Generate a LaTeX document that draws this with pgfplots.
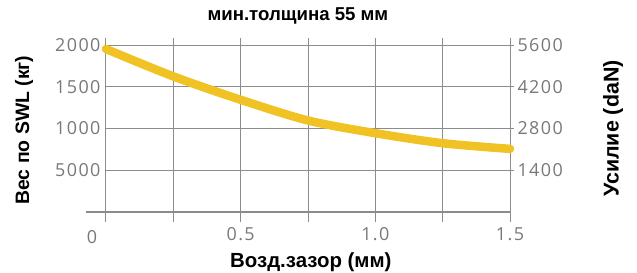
\documentclass[border=0pt]{standalone}
\usepackage{pgfplots}
\pgfplotsset{compat=1.18}
\usepackage{fontspec}
\setmainfont{Liberation Sans}
\newfontfamily\tickfont[LetterSpace=8]{Open Sans}
\definecolor{curve}{RGB}{240,194,36}
\definecolor{gridc}{RGB}{140,140,140}
\definecolor{tickc}{RGB}{120,120,120}
\begin{document}
\begin{tikzpicture}
\begin{axis}[
  scale only axis, width=404bp, height=167bp,
  xmin=0, xmax=1.5, ymin=0, ymax=2000,
  axis line style={draw=none}, clip=false,
  xtick pos=bottom, ytick pos=left,
  xtick={0.5,1.0,1.5}, xticklabels={0.5,1.0,1.5},
  ytick={500,1000,1500,2000}, yticklabels={5000,1000,1500,2000},
  major tick length=0pt,
  ticklabel style={font=\tickfont\fontsize{18}{18}\selectfont, text=tickc},
  /pgf/number format/assume math mode=true,
  xticklabel style={yshift=-12bp},
  yticklabel style={xshift=-2bp},
  title={мин.толщина 55 мм},
  title style={font=\bfseries\fontsize{18.7}{18.7}\selectfont, at={(rel axis cs:0.475,1.108)}, anchor=base},
  xlabel={Возд.зазор (мм)},
  xlabel style={font=\bfseries\fontsize{20.5}{20.5}\selectfont, at={(rel axis cs:0.507,-0.333)}, anchor=base},
  ylabel={Вес по SWL (кг)},
  ylabel style={font=\bfseries\fontsize{19.5}{19.5}\selectfont, at={(rel axis cs:-0.203,0.49)}, anchor=center, rotate=0},
]
\pgfplotsinvokeforeach{0,0.25,0.5,0.75,1,1.25,1.5}{
  \draw[gridc, line width=1bp] ([yshift=-10bp]axis cs:#1,0) -- ([yshift=7bp]axis cs:#1,2000);
}
\pgfplotsinvokeforeach{500,1000,1500,2000}{
  \draw[gridc, line width=1bp] (axis cs:0,#1) -- ([xshift=4bp]axis cs:1.5,#1);
}
\draw[gridc, line width=1.2bp] ([xshift=-20bp]axis cs:0,0) -- (axis cs:1.5,0);
\node[font=\tickfont\fontsize{18}{18}\selectfont, text=tickc] at ([xshift=-14bp,yshift=-25bp]axis cs:0,0) {0};
\addplot[curve, line width=8.5bp, smooth, line cap=round] coordinates {
  (0,1952) (0.25,1624) (0.5,1344) (0.75,1096) (1.0,944) (1.25,824) (1.5,756)
};
\coordinate (O) at (rel axis cs:0,0);
\end{axis}
\begin{axis}[
  scale only axis, width=404bp, height=167bp,
  xmin=0, xmax=1.5, ymin=0, ymax=5600,
  axis x line=none, axis y line*=right, y axis line style={draw=none},
  ytick={1400,2800,4200,5600},
  major tick length=0pt,
  ticklabel style={font=\tickfont\fontsize{18}{18}\selectfont, text=tickc},
  /pgf/number format/assume math mode=true,
  /pgf/number format/1000 sep={},
  yticklabel style={xshift=4bp},
  ylabel={Усилие (daN)},
  ylabel style={font=\bfseries\fontsize{21.5}{21.5}\selectfont, at={(rel axis cs:1.255,0.5)}, anchor=center, rotate=0},
]
\end{axis}
\pgfresetboundingbox
\path[use as bounding box] (O) ++(-106bp,-61bp) rectangle ++(637bp,273bp);
\end{tikzpicture}
\end{document}
